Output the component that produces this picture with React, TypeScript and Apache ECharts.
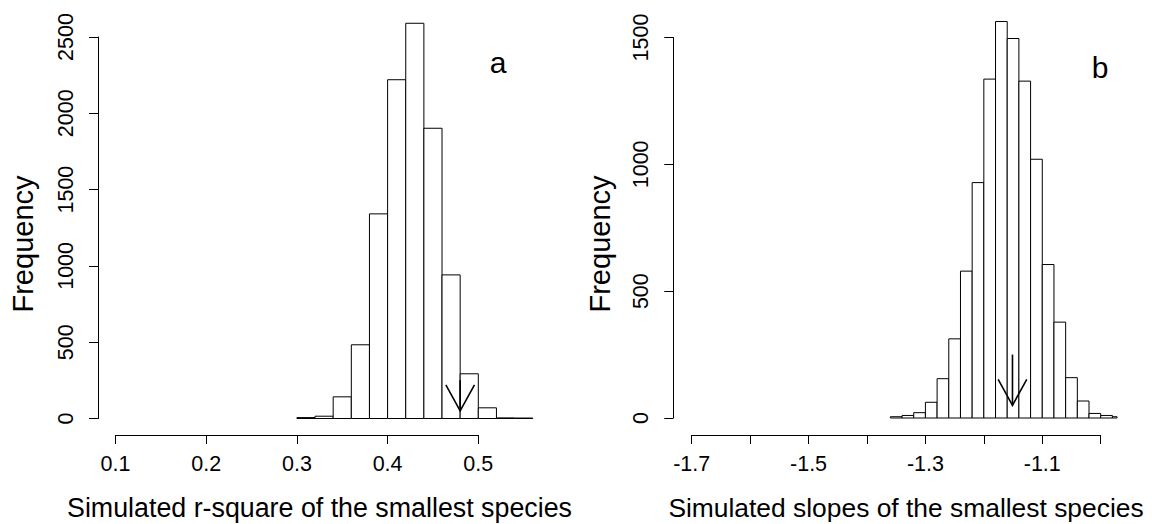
import React, { useEffect, useRef } from "react";
import * as echarts from "echarts";

// Left panel: simulated r-square histogram
const leftBreaks = [0.30, 0.32, 0.34, 0.36, 0.38, 0.40, 0.42, 0.44, 0.46, 0.48, 0.50, 0.52, 0.54, 0.56];
const leftCounts = [6, 15, 142, 483, 1341, 2220, 2590, 1902, 941, 293, 70, 4, 3];
const leftYTicks = [0, 2500, 500];
const leftXTicks = [0.1, 0.5, 0.1];
const leftArrow = [0.48, 250, 50];

// Right panel: simulated slopes histogram
const rightBreaks = [-1.36, -1.34, -1.32, -1.30, -1.28, -1.26, -1.24, -1.22, -1.20, -1.18, -1.16, -1.14, -1.12, -1.10, -1.08, -1.06, -1.04, -1.02, -1.00, -0.98, -0.96];
const rightCounts = [5, 10, 21, 62, 155, 312, 579, 928, 1336, 1563, 1496, 1328, 1020, 605, 378, 159, 67, 18, 10, 5];
const rightYTicks = [0, 1500, 500];
const rightXTicks = [-1.7, -1.0, 0.1];
const rightArrow = [-1.151, 250, 50];

const FONT = '"Liberation Sans", Arial, sans-serif';

function histData(breaks: number[], counts: number[]) {
  return counts.map((c, i) => [breaks[i], breaks[i + 1], c]);
}

function makeHistRender(clipMax: number) {
  return (params: any, api: any) => {
    const x0 = api.value(0);
    const x1 = Math.min(api.value(1), clipMax);
    const c = api.value(2);
    const p0 = api.coord([x0, c]);
    const p1 = api.coord([x1, 0]);
    return {
      type: "rect",
      shape: { x: p0[0], y: p0[1], width: p1[0] - p0[0], height: p1[1] - p0[1] },
      style: { fill: "#ffffff", stroke: "#000000", lineWidth: 1 },
    };
  };
}

const arrowRender = (params: any, api: any) => {
  const x = api.value(0);
  const top = api.coord([x, api.value(1)]);
  const tip = api.coord([x, api.value(2)]);
  const hw = 14.3;
  const hh = 26;
  return {
    type: "group",
    children: [
      {
        type: "line",
        shape: { x1: top[0], y1: top[1], x2: tip[0], y2: tip[1] },
        style: { stroke: "#000", lineWidth: 1.6 },
      },
      {
        type: "polyline",
        shape: { points: [[tip[0] - hw, tip[1] - hh], [tip[0], tip[1]], [tip[0] + hw, tip[1] - hh]] },
        style: { stroke: "#000", lineWidth: 1.6, fill: "none" },
      },
    ],
  };
};

const axisLabelStyle = { color: "#000", fontSize: 21.5, fontFamily: FONT };
const plainNum = (v: number) => String(v);

export default function App() {
  const ref = useRef<HTMLDivElement>(null);
  useEffect(() => {
    if (!ref.current) return;
    const chart = echarts.init(ref.current, undefined, { renderer: "svg" });
    const option: any = {
      animation: false,
      backgroundColor: "#ffffff",
      grid: [
        { left: 115.5, top: 37, width: 362.8, height: 381.5, outerBoundsMode: "none" },
        { left: 691.7, top: 37.5, width: 409, height: 380.5, outerBoundsMode: "none" },
      ],
      xAxis: [
        {
          type: "value", gridIndex: 0, min: leftXTicks[0], max: leftXTicks[1], interval: leftXTicks[2],
          offset: 16.5,
          axisLine: { show: true, onZero: false, lineStyle: { color: "#000", width: 1 } },
          axisTick: { show: true, length: 9, lineStyle: { color: "#000" } },
          splitLine: { show: false },
          axisLabel: { ...axisLabelStyle, margin: 18, formatter: (v: number) => v.toFixed(1) },
        },
        {
          type: "value", gridIndex: 1, min: rightXTicks[0], max: rightXTicks[1], interval: rightXTicks[2],
          offset: 17,
          axisLine: { show: true, onZero: false, lineStyle: { color: "#000", width: 1 } },
          axisTick: { show: true, length: 9, lineStyle: { color: "#000" } },
          splitLine: { show: false },
          axisLabel: {
            ...axisLabelStyle, margin: 18, showMinLabel: true, showMaxLabel: true,
            formatter: (v: number) => (Math.abs(Math.round(v * 10)) % 2 === 1 ? v.toFixed(1) : ""),
          },
        },
      ],
      yAxis: [
        {
          type: "value", gridIndex: 0, min: leftYTicks[0], max: leftYTicks[1], interval: leftYTicks[2],
          offset: 17.5,
          axisLine: { show: true, onZero: false, lineStyle: { color: "#000", width: 1 } },
          axisTick: { show: true, length: 9, lineStyle: { color: "#000" } },
          splitLine: { show: false },
          axisLabel: { ...axisLabelStyle, rotate: 90, margin: 21, formatter: plainNum },
        },
        {
          type: "value", gridIndex: 1, min: rightYTicks[0], max: rightYTicks[1], interval: rightYTicks[2],
          offset: 18.4,
          axisLine: { show: true, onZero: false, lineStyle: { color: "#000", width: 1 } },
          axisTick: { show: true, length: 9, lineStyle: { color: "#000" } },
          splitLine: { show: false },
          axisLabel: { ...axisLabelStyle, rotate: 90, margin: 21, formatter: plainNum },
        },
      ],
      series: [
        {
          type: "custom", xAxisIndex: 0, yAxisIndex: 0, clip: false,
          renderItem: makeHistRender(Infinity),
          encode: { x: [0, 1], y: 2 },
          data: histData(leftBreaks, leftCounts),
        },
        {
          type: "custom", xAxisIndex: 1, yAxisIndex: 1, clip: false,
          renderItem: makeHistRender(-0.972),
          encode: { x: [0, 1], y: 2 },
          data: histData(rightBreaks, rightCounts),
        },
        {
          type: "custom", xAxisIndex: 0, yAxisIndex: 0, clip: false,
          renderItem: arrowRender, encode: { x: 0, y: [1, 2] },
          data: [leftArrow],
        },
        {
          type: "custom", xAxisIndex: 1, yAxisIndex: 1, clip: false,
          renderItem: arrowRender, encode: { x: 0, y: [1, 2] },
          data: [rightArrow],
        },
      ],
      graphic: [
        { type: "text", x: 319.5, y: 508, style: { text: "Simulated r-square of the smallest species", font: `26.8px ${FONT}`, fill: "#000", align: "center", verticalAlign: "middle" } },
        { type: "text", x: 906, y: 508, style: { text: "Simulated slopes of the smallest species", font: `26.4px ${FONT}`, fill: "#000", align: "center", verticalAlign: "middle" } },
        { type: "text", x: 23, y: 244, rotation: Math.PI / 2, style: { text: "Frequency", font: `29px ${FONT}`, fill: "#000", align: "center", verticalAlign: "middle" } },
        { type: "text", x: 600, y: 244, rotation: Math.PI / 2, style: { text: "Frequency", font: `29px ${FONT}`, fill: "#000", align: "center", verticalAlign: "middle" } },
        { type: "text", x: 498, y: 47, style: { text: "a", font: `30px ${FONT}`, fill: "#000", align: "center", verticalAlign: "alphabetic" } },
        { type: "text", x: 1100, y: 52, style: { text: "b", font: `30px ${FONT}`, fill: "#000", align: "center", verticalAlign: "alphabetic" } },
      ],
    };
    chart.setOption(option);
    return () => chart.dispose();
  }, []);
  return <div ref={ref} style={{ position: "fixed", left: 0, top: 0, width: 1152, height: 524 }} />;
}
